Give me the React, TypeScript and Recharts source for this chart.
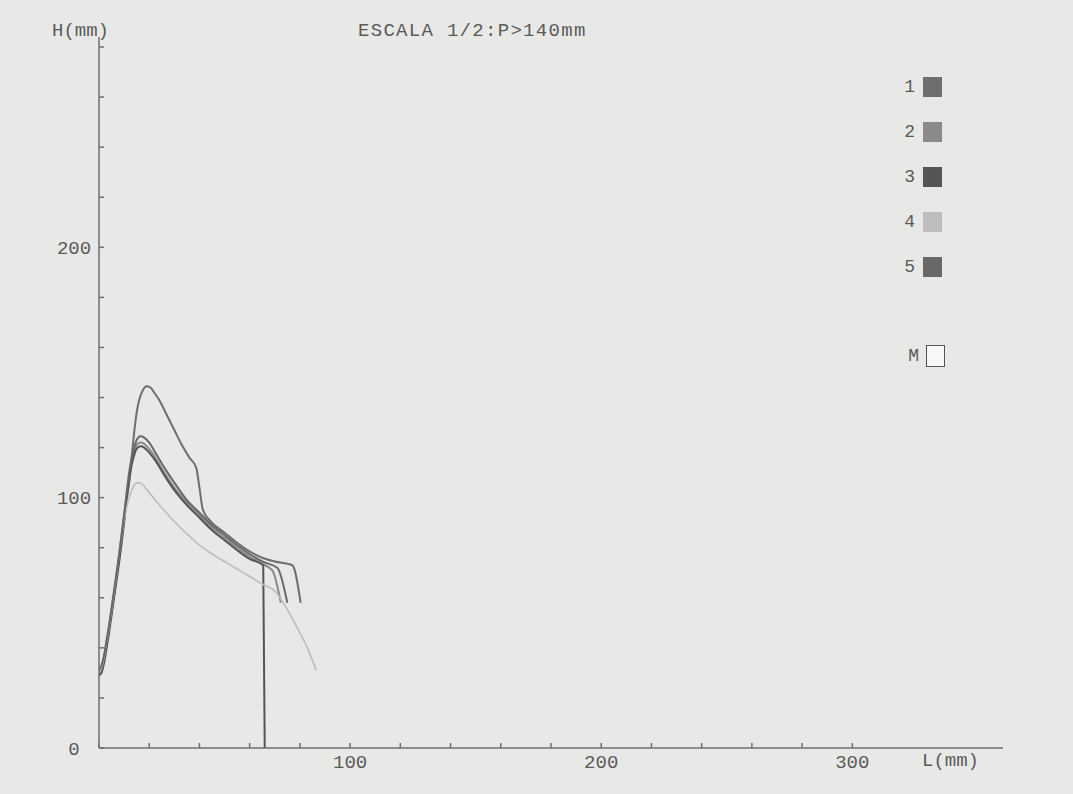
import { Legend, Line, LineChart, XAxis, YAxis } from "recharts";

// Perfiles H(mm) vs L(mm), escala 1/2, P>140mm.
// Each series is a list of [L, H] pairs.
type Pt = [number, number];

const SERIES_NAMES = ["1", "2", "3", "4", "5"];
const SERIES_COLORS = ["#6e6e6e", "#8a8a8a", "#555555", "#bdbdbd", "#686868"];
const SERIES_WIDTHS = [2, 2, 2, 1.6, 2];

const S1: Pt[] = [
  [0, 30], [1, 32], [2, 36], [3, 42], [4, 48], [5, 55], [6, 62], [7, 69],
  [8, 77], [9, 85], [10, 93], [11, 100], [12, 106], [13, 116], [14, 126],
  [15, 134], [16, 139], [17.5, 143], [19, 144.5], [20.5, 144], [22, 142],
  [24, 139], [27, 133], [30, 127], [33, 121], [36, 116], [38.7, 112],
  [40, 104], [41.4, 95], [45, 90], [50, 86], [55, 82], [60, 78.5], [65, 76],
  [70, 74.5], [77, 73], [80.3, 58],
];

const S2: Pt[] = [
  [0, 30], [1, 31], [2, 34], [3, 40], [4, 47], [5, 54], [6, 61], [7, 68],
  [8, 75], [9, 82], [10, 91], [11, 100], [12, 108], [13, 114], [14, 118],
  [15, 121], [16.5, 122], [18, 121.5], [20, 119.5], [23, 115], [26, 110],
  [30, 104], [35, 98], [40, 93], [45, 88], [50, 84], [55, 80], [60, 76.5],
  [64, 74], [69, 71], [72.4, 58],
];

const S3: Pt[] = [
  [0, 29], [1, 30], [2, 34], [3, 40], [4, 46], [5, 53], [6, 60], [7, 67],
  [8, 74], [9, 82], [10, 90], [11, 99], [12, 107], [13, 113], [14, 117],
  [15, 119.5], [16.5, 120.5], [18, 120], [20, 118], [23, 114], [26, 109],
  [30, 103], [35, 97], [40, 92], [45, 87], [50, 83], [55, 79], [60, 75.5],
  [65.4, 73], [66, 0],
];

const S4: Pt[] = [
  [0, 30], [1, 32], [2, 36], [3, 42], [4, 48], [5, 55], [6, 62], [7, 69],
  [8, 77], [9, 84], [10, 91], [11, 96], [12, 100], [13, 103], [14, 105],
  [15.5, 106], [17, 105.5], [20, 102], [25, 96], [30, 90.5], [35, 85.5],
  [40, 81], [45, 77.5], [50, 74.5], [55, 71.5], [60, 68.5], [65, 65.5],
  [70.7, 62], [74, 57], [77.4, 51], [80, 46], [83, 40], [86.5, 31],
];

const S5: Pt[] = [
  [0, 31], [1, 33], [2, 37], [3, 43], [4, 49], [5, 56], [6, 63], [7, 70],
  [8, 77], [9, 85], [10, 93], [11, 102], [12, 110], [13, 116], [14, 120],
  [15, 123], [16.5, 124.5], [18, 124], [20, 122], [23, 117], [26, 112],
  [30, 106], [35, 99], [40, 94], [45, 89], [50, 85], [55, 81], [60, 77.5],
  [65, 74.5], [71, 72], [75, 58],
];

const SERIES: Pt[][] = [S1, S2, S3, S4, S5];

const X_TICKS = [0, 20, 40, 60, 80, 100, 120, 140, 160, 180, 200, 220, 240, 260, 280, 300];
const Y_TICKS = [0, 20, 40, 60, 80, 100, 120, 140, 160, 180, 200, 220, 240, 260, 280];
const X_LABELS = [100, 200, 300];
const Y_LABELS = [0, 100, 200];

const TITLE = "ESCALA 1/2:P>140mm";
const X_NAME = "L(mm)";
const Y_NAME = "H(mm)";
const EXTRA_KEY = "M";

const MONO = "'Liberation Mono', 'DejaVu Sans Mono', monospace";
const INK = "#5a5a5a";
const AXIS = "#6f6f6f";
const PAPER = "#e8e8e6";

function ScanLegend() {
  const rows = [0, 45, 90, 135, 180];
  return (
    <div style={{ position: "relative", width: 70, height: 300, fontFamily: MONO }}>
      {SERIES_NAMES.map((n, i) => (
        <div key={n} style={{ position: "absolute", top: rows[i], left: 0, display: "flex", alignItems: "center" }}>
          <span style={{ width: 26, textAlign: "right", fontSize: 18, color: INK, lineHeight: "20px" }}>{n}</span>
          <span style={{ marginLeft: 8, width: 19, height: 20, background: SERIES_COLORS[i] }} />
        </div>
      ))}
      <div style={{ position: "absolute", top: 268, left: 0, display: "flex", alignItems: "center" }}>
        <span style={{ width: 30, textAlign: "right", fontSize: 18, color: INK, lineHeight: "20px" }}>{EXTRA_KEY}</span>
        <span style={{ marginLeft: 7, width: 17, height: 20, background: "#f7f7f5", border: "1.5px solid #555" }} />
      </div>
    </div>
  );
}

export default function App() {
  return (
    <div style={{ position: "absolute", left: 0, top: 0, width: 1073, height: 794, background: PAPER }}>
      <LineChart width={1073} height={794} margin={{ top: 37, right: 70, bottom: 16, left: 39 }}>
        <XAxis
          type="number"
          dataKey="L"
          domain={[0, 360]}
          ticks={X_TICKS}
          allowDataOverflow
          height={30}
          stroke={AXIS}
          strokeWidth={1.5}
          tickSize={-5}
          tickMargin={12}
          tickFormatter={(v: number) => (X_LABELS.includes(v) ? String(v) : "")}
          tick={{ fill: INK, fontSize: 19, fontFamily: MONO }}
        />
        <YAxis
          type="number"
          domain={[0, 284]}
          ticks={Y_TICKS}
          allowDataOverflow
          width={60}
          stroke={AXIS}
          strokeWidth={1.5}
          tickSize={-5}
          tickMargin={30}
          tickFormatter={(v: number) => (Y_LABELS.includes(v) ? String(v) : "")}
          tick={{ fill: INK, fontSize: 19, fontFamily: MONO, textAnchor: "middle" }}
        />
        <Legend
          layout="horizontal"
          verticalAlign="middle"
          wrapperStyle={{ position: "absolute", left: 889, top: 77, width: 80 }}
          content={() => <ScanLegend />}
        />
        {SERIES.map((s, i) => (
          <Line
            key={SERIES_NAMES[i]}
            name={SERIES_NAMES[i]}
            data={s.map(([L, H]) => ({ L, H }))}
            dataKey="H"
            type="monotone"
            stroke={SERIES_COLORS[i]}
            strokeWidth={SERIES_WIDTHS[i]}
            dot={false}
            isAnimationActive={false}
          />
        ))}
      </LineChart>
      <svg width={1073} height={794} style={{ position: "absolute", left: 0, top: 0, pointerEvents: "none" }}>
        <g fontFamily={MONO} fontSize={19} fill={INK}>
          <text x={52} y={36}>{Y_NAME}</text>
          <text x={358} y={36} letterSpacing={1.3}>{TITLE}</text>
          <text x={922} y={766}>{X_NAME}</text>
        </g>
      </svg>
    </div>
  );
}
